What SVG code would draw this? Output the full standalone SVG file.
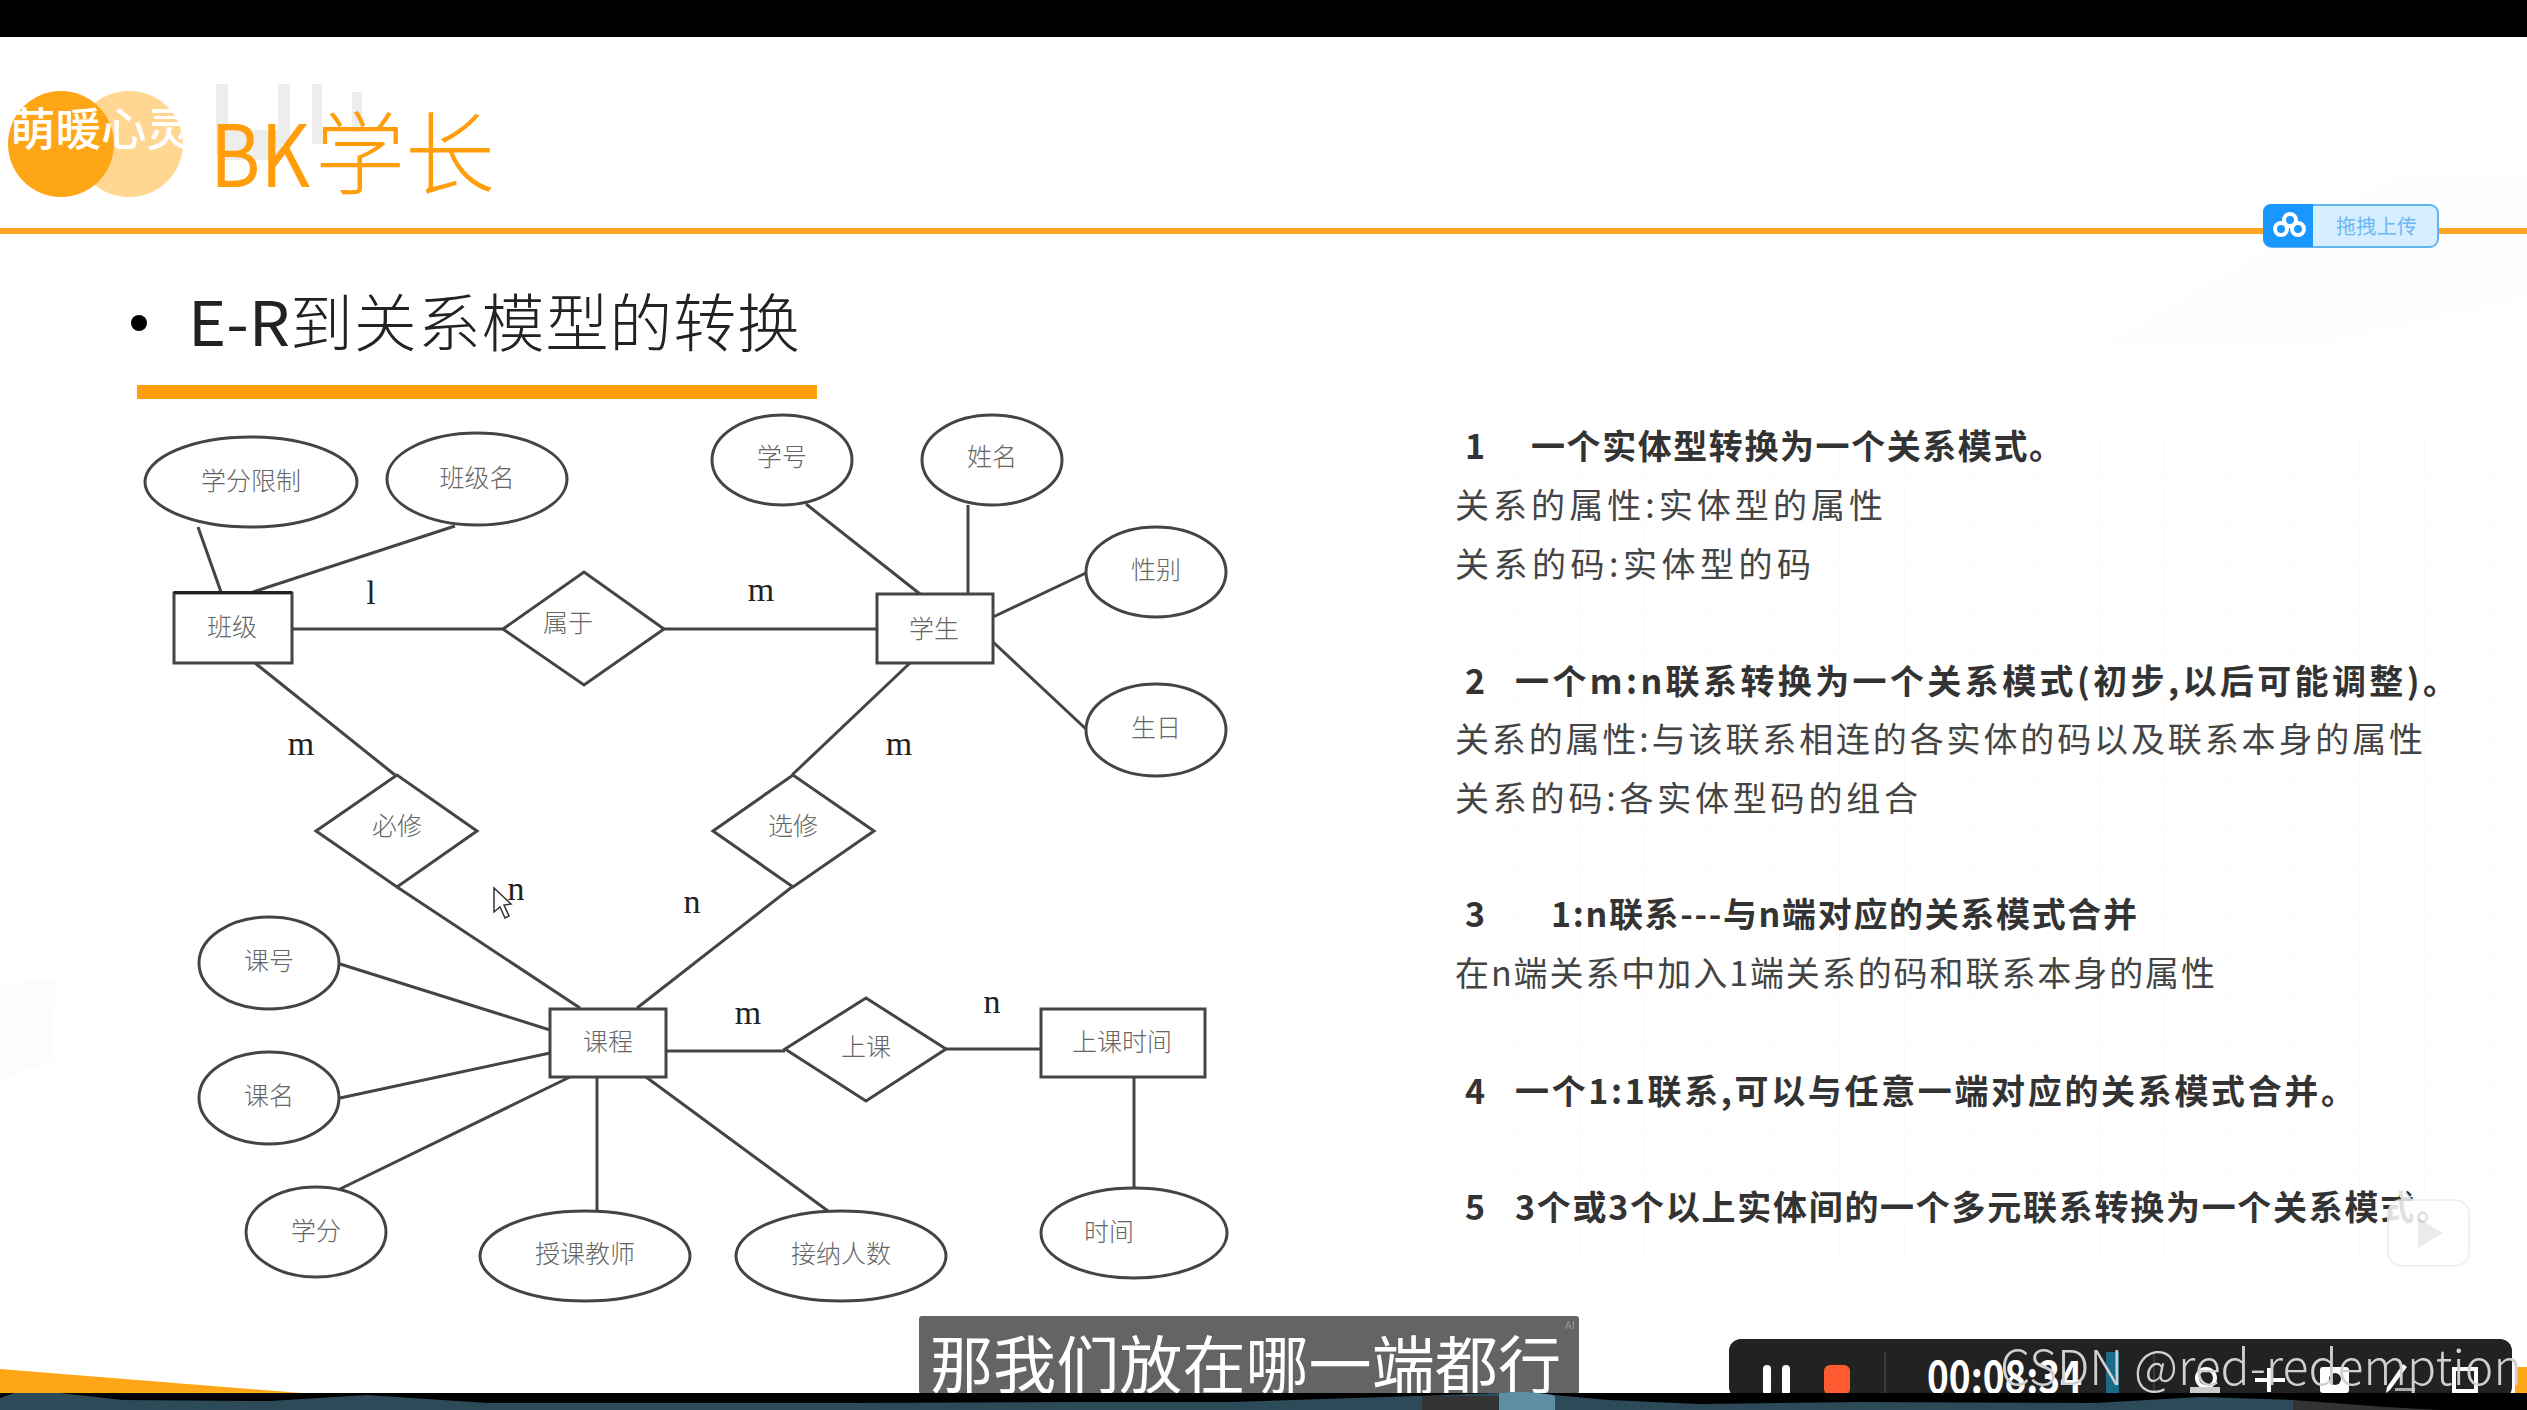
<svg xmlns="http://www.w3.org/2000/svg" width="2527" height="1410" viewBox="0 0 2527 1410">
<style>
text{font-family:"Noto Sans CJK SC","Noto Sans",sans-serif}
.ent{fill:#fff;stroke:#444;stroke-width:3}
.attr{fill:#fff;stroke:#444;stroke-width:3}
.rel{fill:#fff;stroke:#444;stroke-width:3}
.lb{font-size:25px;fill:#666;text-anchor:middle;font-weight:300;dominant-baseline:central;transform:translateY(-2px)}
.card{font-family:"Liberation Serif",serif;font-size:34px;fill:#222;text-anchor:middle;dominant-baseline:central;transform:translateY(-3px)}
#connectors line{stroke:#444;stroke-width:3}
.b{font-size:34px;font-weight:700;fill:#333}
.r{font-size:34px;font-weight:400;fill:#444}
.ic{fill:none;stroke:#fff;stroke-width:4}
</style>
<defs>
<pattern id="grid" x="1450" y="437" width="65" height="43.3" patternUnits="userSpaceOnUse">
<path d="M0 43H65M64.500 0V43.300" fill="none" stroke="#fafaf6" stroke-width="1"/>
</pattern>
</defs>
<rect width="2527" height="1410" fill="#fff"/>
<polygon points="2090,350 2400,170 2527,170 2527,300 2300,350" fill="#fefefe"/>
<polygon points="0,985 55,978 53,1060 0,1080" fill="#fcfcfc"/>
<rect x="1450" y="437" width="1077" height="820" fill="url(#grid)"/>
<rect width="2527" height="37" fill="#000"/>
<g id="logo">
<ellipse cx="129" cy="144" rx="54" ry="53" fill="#FFD692"/>
<ellipse cx="61" cy="144" rx="53" ry="53" fill="#FFA616"/>
<text x="10" y="146" font-size="45" fill="#fff" font-weight="500" textLength="182" lengthAdjust="spacingAndGlyphs">萌暖心灵</text>
<g fill="#e8e8e8" opacity=".75"><rect x="216" y="84" width="12" height="70"/><rect x="278" y="84" width="12" height="60"/><rect x="312" y="84" width="10" height="60"/><rect x="352" y="92" width="10" height="40"/><rect x="222" y="130" width="60" height="30"/></g>
<text x="210" y="187" font-family="Liberation Serif" font-size="86" fill="#FF9D0A" textLength="100" lengthAdjust="spacingAndGlyphs">BK</text>
<text x="315" y="187" font-size="90" fill="#FF9D0A" font-weight="300">学长</text>
</g>
<rect x="0" y="228" width="2527" height="6" fill="#FFA424"/>
<g id="upload">
<rect x="2264" y="205" width="174" height="42" rx="8" fill="#d6eeff" stroke="#62b3f0" stroke-width="2"/>
<path d="M2313 204H2271a8 8 0 0 0-8 8v27a8 8 0 0 0 8 8H2313z" fill="#1a97ff"/>
<g fill="none" stroke="#fff" stroke-width="4"><circle cx="2290" cy="220" r="6"/><circle cx="2281" cy="229" r="6"/><circle cx="2298" cy="229" r="6"/></g>
<text x="2336" y="234" font-size="20" fill="#6ab8f5" textLength="81">拖拽上传</text>
</g>
<circle cx="139" cy="323" r="8" fill="#000"/>
<text x="188" y="346" font-family="Liberation Serif" font-size="62" fill="#222" textLength="102" lengthAdjust="spacingAndGlyphs">E-R</text>
<text x="290" y="346" font-size="63" fill="#222" font-weight="300" textLength="510">到关系模型的转换</text>
<rect x="137" y="385" width="680" height="14" fill="#FF9D0A"/>
<g id="connectors">
<line x1="198" y1="527" x2="221" y2="592"/><line x1="455" y1="526" x2="253" y2="592"/>
<line x1="291" y1="629" x2="503" y2="629"/><line x1="664" y1="629" x2="877" y2="629"/>
<line x1="806" y1="504" x2="920" y2="594"/><line x1="968" y1="505" x2="968" y2="594"/>
<line x1="1086" y1="573" x2="993" y2="617"/><line x1="1086" y1="729" x2="993" y2="642"/>
<line x1="255" y1="663" x2="395" y2="775"/><line x1="910" y1="663" x2="792" y2="775"/>
<line x1="397" y1="887" x2="580" y2="1008"/><line x1="792" y1="887" x2="637" y2="1008"/>
<line x1="340" y1="964" x2="550" y2="1030"/><line x1="340" y1="1098" x2="550" y2="1053"/>
<line x1="340" y1="1189" x2="570" y2="1077"/><line x1="597" y1="1077" x2="597" y2="1211"/>
<line x1="646" y1="1077" x2="828" y2="1211"/><line x1="666" y1="1051" x2="785" y2="1051"/>
<line x1="946" y1="1049" x2="1040" y2="1049"/><line x1="1134" y1="1077" x2="1134" y2="1188"/>
</g>
<g id="n-xuefen"><ellipse class="attr" cx="251" cy="482" rx="106" ry="45"/><text class="lb" x="251" y="481">学分限制</text></g>
<g id="n-banjiming"><ellipse class="attr" cx="477" cy="479" rx="90" ry="46"/><text class="lb" x="477" y="478">班级名</text></g>
<g id="n-xuehao"><ellipse class="attr" cx="782" cy="460" rx="70" ry="45"/><text class="lb" x="782" y="457">学号</text></g>
<g id="n-xingming"><ellipse class="attr" cx="992" cy="460" rx="70" ry="45"/><text class="lb" x="992" y="457">姓名</text></g>
<g id="n-xingbie"><ellipse class="attr" cx="1156" cy="572" rx="70" ry="45"/><text class="lb" x="1156" y="570">性别</text></g>
<g id="n-shengri"><ellipse class="attr" cx="1156" cy="730" rx="70" ry="46"/><text class="lb" x="1156" y="728">生日</text></g>
<g id="n-banji"><rect class="ent" x="174" y="593" width="118" height="70"/><rect x="174" y="591" width="118" height="3" fill="#222"/><text class="lb" x="232" y="627">班级</text></g>
<g id="n-shuyu"><polygon class="rel" points="503,629 584,572 664,629 584,685"/><text class="lb" x="568" y="623">属于</text></g>
<g id="n-xuesheng"><rect class="ent" x="877" y="594" width="116" height="69"/><text class="lb" x="934" y="629">学生</text></g>
<g id="n-bixiu"><polygon class="rel" points="316,831 397,775 477,831 397,887"/><text class="lb" x="397" y="826">必修</text></g>
<g id="n-xuanxiu"><polygon class="rel" points="713,831 793,775 874,831 793,887"/><text class="lb" x="793" y="826">选修</text></g>
<g id="n-kehao"><ellipse class="attr" cx="269" cy="963" rx="70" ry="46"/><text class="lb" x="269" y="961">课号</text></g>
<g id="n-keming"><ellipse class="attr" cx="269" cy="1098" rx="70" ry="46"/><text class="lb" x="269" y="1096">课名</text></g>
<g id="n-xf"><ellipse class="attr" cx="316" cy="1232" rx="70" ry="45"/><text class="lb" x="316" y="1231">学分</text></g>
<g id="n-teacher"><ellipse class="attr" cx="585" cy="1256" rx="105" ry="45"/><text class="lb" x="585" y="1254">授课教师</text></g>
<g id="n-num"><ellipse class="attr" cx="841" cy="1256" rx="105" ry="45"/><text class="lb" x="841" y="1254">接纳人数</text></g>
<g id="n-time"><ellipse class="attr" cx="1134" cy="1233" rx="93" ry="45"/><text class="lb" x="1109" y="1232">时间</text></g>
<g id="n-kecheng"><rect class="ent" x="550" y="1009" width="116" height="68"/><text class="lb" x="608" y="1042">课程</text></g>
<g id="n-shangke"><polygon class="rel" points="785,1049 866,998 946,1049 866,1101"/><text class="lb" x="866" y="1047">上课</text></g>
<g id="n-sktime"><rect class="ent" x="1041" y="1009" width="164" height="68"/><text class="lb" x="1122" y="1042">上课时间</text></g>
<g id="cards">
<text class="card" x="371" y="595">l</text><text class="card" x="761" y="592">m</text><text class="card" x="301" y="746">m</text><text class="card" x="899" y="746">m</text>
<text class="card" x="516" y="891">n</text><text class="card" x="692" y="904">n</text><text class="card" x="748" y="1015">m</text><text class="card" x="992" y="1004">n</text>
</g>
<path d="M494 888l0 24 6-5 5 11 4-2-5-11 7-1z" fill="#fff" stroke="#333" stroke-width="1.500"/>
<g id="notes">
<text class="b" x="1465" y="459">1</text><text class="b" x="1531" y="459" textLength="532">一个实体型转换为一个关系模式。</text>
<text class="r" x="1455" y="518" textLength="428">关系的属性:实体型的属性</text>
<text class="r" x="1455" y="577" textLength="356">关系的码:实体型的码</text>
<text class="b" x="1465" y="694">2</text><text class="b" x="1515" y="694" textLength="942">一个m:n联系转换为一个关系模式(初步,以后可能调整)。</text>
<text class="r" x="1455" y="752" textLength="968">关系的属性:与该联系相连的各实体的码以及联系本身的属性</text>
<text class="r" x="1455" y="811" textLength="463">关系的码:各实体型码的组合</text>
<text class="b" x="1465" y="927">3</text><text class="b" x="1551" y="927" textLength="586">1:n联系---与n端对应的关系模式合并</text>
<text class="r" x="1455" y="986" textLength="760">在n端关系中加入1端关系的码和联系本身的属性</text>
<text class="b" x="1465" y="1104">4</text><text class="b" x="1515" y="1104" textLength="840">一个1:1联系,可以与任意一端对应的关系模式合并。</text>
<text class="b" x="1465" y="1220">5</text><text class="b" x="1515" y="1220" textLength="935">3个或3个以上实体间的一个多元联系转换为一个关系模式。</text>
</g>
<g id="bili" opacity=".85">
<path d="M2411 1205l-12-16M2445 1205l12-16" stroke="#fff" stroke-width="8" stroke-linecap="round"/>
<rect x="2388" y="1200" width="81" height="66" rx="14" fill="#fff" stroke="#eee" stroke-width="2"/>
<path d="M2418 1218v30l25-15z" fill="#e8e8e8"/>
</g>
<polygon points="0,1369 301,1393 0,1393" fill="#FFA616"/>
<rect x="2515" y="1367" width="12" height="26" fill="#FFA616"/>
<g id="subtitle">
<rect x="919" y="1316" width="660" height="78" rx="3" fill="#646464"/>
<text x="1570" y="1329" font-size="11" fill="#999" text-anchor="middle" font-family="Liberation Sans">AI</text>
<text x="930" y="1388" font-size="63" fill="#fff" font-weight="400" textLength="631" lengthAdjust="spacingAndGlyphs">那我们放在哪一端都行</text>
</g>
<g id="toolbar">
<rect x="1729" y="1339" width="783" height="60" rx="12" fill="#222"/>
<rect x="1763" y="1365" width="8" height="30" rx="4" fill="#fff"/><rect x="1782" y="1365" width="8" height="30" rx="4" fill="#fff"/>
<rect x="1824" y="1365" width="26" height="30" rx="6" fill="#FF5A30"/>
<rect x="1884" y="1352" width="2" height="42" fill="#3a3a3a"/><rect x="2153" y="1352" width="2" height="42" fill="#3a3a3a"/>
<text x="1927" y="1393" font-family="Liberation Mono" font-weight="700" font-size="44" fill="#fff" textLength="155" lengthAdjust="spacingAndGlyphs">00:08:34</text>
<rect x="2106" y="1352" width="13" height="42" fill="#1a6a8a"/>
<circle class="ic" cx="2206" cy="1378" r="9"/><rect x="2190" y="1387" width="30" height="8" fill="#ccc"/>
<path class="ic" d="M2269 1368v24M2255 1380h30"/>
<rect x="2320" y="1367" width="29" height="26" rx="3" fill="#fff"/><circle cx="2335" cy="1379" r="6" fill="#222"/>
<path d="M2407 1367l-17 23-4 3 1-6 16-23z" fill="#fff"/><rect x="2395" y="1388" width="20" height="3" fill="#aaa"/>
<rect class="ic" x="2454" y="1369" width="22" height="22"/>
<text x="2000" y="1385" font-family="Roboto,sans-serif" font-weight="300" font-size="48" fill="#d0d0d0" textLength="522" lengthAdjust="spacingAndGlyphs">CSDN @red-redemption</text>
</g>
<g id="bottom-strip">
<rect x="0" y="1393" width="2527" height="17" fill="#000"/>
<path d="M0 1398L14 1393H60L123 1400 270 1401 367 1395 488 1403H850L1083 1402 1230 1402 1446 1395 1520 1392 1609 1400 1700 1404 1860 1402 2095 1403 2200 1397 2293 1400V1410H0z" fill="#2c4a58"/>
<path d="M2293 1400L2386 1407 2440 1410H2293z" fill="#333"/>
<rect x="1422" y="1396" width="77" height="14" fill="#333"/>
<path d="M1499 1393C1520 1391 1540 1392 1555 1396V1410H1499z" fill="#5d8fa5"/>
</g>
</svg>
